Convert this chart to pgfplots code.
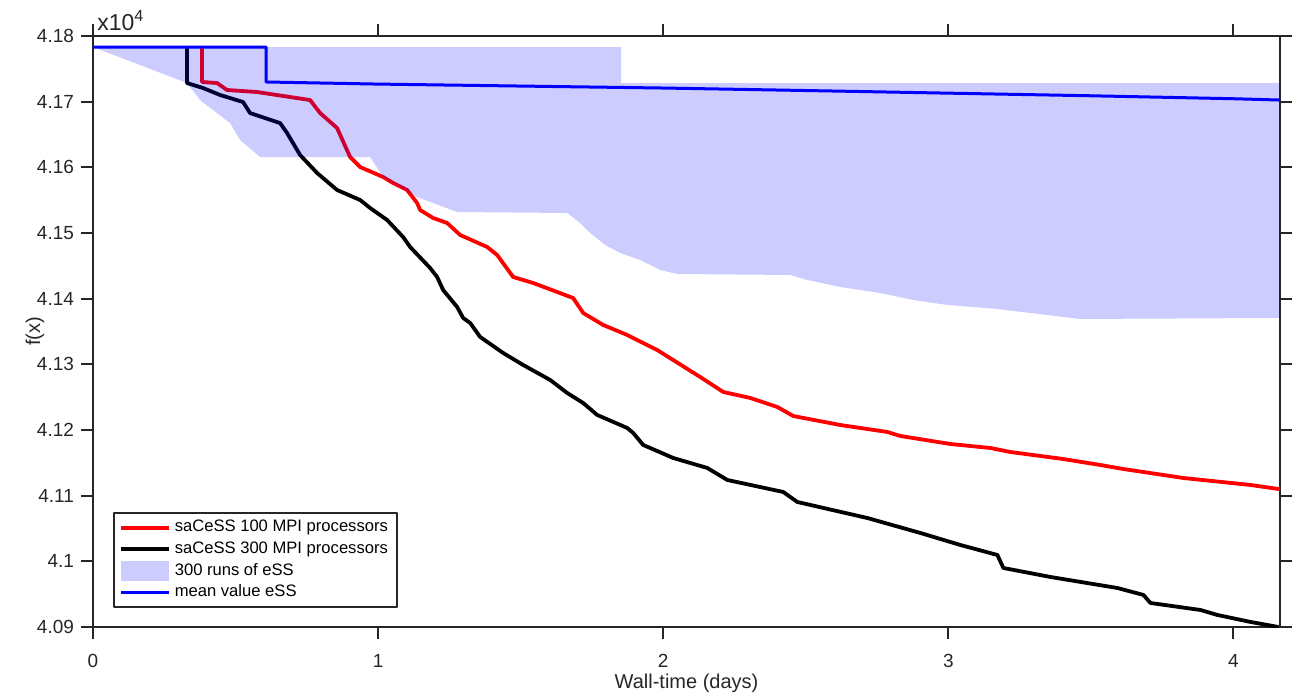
\documentclass[border=0pt]{standalone}
\usepackage{pgfplots}
\pgfplotsset{compat=1.18}
\usepackage{fontspec}
\setmainfont{Liberation Sans}
\definecolor{axgray}{RGB}{38,38,38}
\pgfplotsset{myarea/.style={legend image code/.code={\fill[##1] (0pt,-5pt) rectangle (24pt,5pt);}}}
\begin{document}
\begin{tikzpicture}
\path[use as bounding box] (-46.5pt,-34.5pt) rectangle (603.5pt,313.5pt);
\begin{axis}[
  scale only axis, width=593.5pt, height=295.5pt,
  clip mode=individual,
  xmin=0, xmax=4.1632, ymin=4.09, ymax=4.18,
  xtick={0,1,2,3,4}, xticklabels={0,1,2,3,4},
  ytick={4.09,4.10,4.11,4.12,4.13,4.14,4.15,4.16,4.17,4.18},
  yticklabels={4.09,4.1,4.11,4.12,4.13,4.14,4.15,4.16,4.17,4.18},
  tick align=outside, major tick length=6pt,
  axis line style={line width=1pt, axgray},
  every tick/.style={line width=1pt, axgray},
  tick label style={font=\fontsize{9.5}{11}\selectfont, text=axgray},
  xticklabel style={yshift=-4pt},
  /pgf/number format/assume math mode=true,
  xlabel={Wall-time (days)}, ylabel={f(x)},
  label style={font=\fontsize{10}{12}\selectfont, text=axgray},
  xlabel style={at={(axis description cs:0.5,-0.0948)}, anchor=center},
  ylabel style={at={(axis description cs:-0.0489,0.5)}, anchor=center, rotate=0},
  legend style={at={(axis description cs:0.01685,0.0322)}, anchor=south west,
    draw=axgray, line width=1pt, font=\fontsize{8.3}{10}\selectfont,
    inner xsep=2.5pt, inner ysep=1.5pt, row sep=-0.6pt},
  legend cell align=left,
  legend image code/.code={\draw[#1] (0pt,0pt) -- (24pt,0pt);},
  line join=round,
]
\addplot[red, line width=1.9pt] coordinates {
(0.3825,4.17832) (0.3825,4.17300) (0.4351,4.17284) (0.4702,4.17178) (0.5754,4.17147)
(0.7614,4.17025) (0.7965,4.16827) (0.8561,4.16599) (0.9018,4.16157) (0.9368,4.16005)
(1.0175,4.15853) (1.0526,4.15762) (1.1018,4.15655) (1.1368,4.15457) (1.1474,4.15350)
(1.1930,4.15229) (1.2421,4.15152) (1.2877,4.14970) (1.3825,4.14787) (1.4175,4.14665)
(1.4737,4.14330) (1.5439,4.14239) (1.6842,4.14010) (1.7193,4.13782) (1.7895,4.13599)
(1.8737,4.13447) (1.9789,4.13218) (2.1298,4.12807) (2.2105,4.12579) (2.3053,4.12488)
(2.4000,4.12351) (2.4561,4.12213) (2.6211,4.12076) (2.7860,4.11970) (2.8316,4.11909)
(3.0070,4.11787) (3.1474,4.11726) (3.2175,4.11665) (3.4000,4.11560) (3.5333,4.11467)
(3.6140,4.11406) (3.8246,4.11269) (4.0596,4.11163) (4.1579,4.11102) (4.1632,4.11100)
};
\addplot[black, line width=1.9pt] coordinates {
(0.3298,4.17832) (0.3298,4.17284) (0.3860,4.17208) (0.4456,4.17102) (0.5263,4.16995)
(0.5509,4.16827) (0.6561,4.16675) (0.6807,4.16523) (0.7263,4.16188) (0.7860,4.15914)
(0.8561,4.15655) (0.9368,4.15503) (0.9719,4.15381) (1.0316,4.15198) (1.0877,4.14939)
(1.1123,4.14787) (1.1825,4.14467) (1.2070,4.14330) (1.2281,4.14132) (1.2772,4.13873)
(1.2982,4.13706) (1.3228,4.13630) (1.3579,4.13417) (1.4386,4.13173) (1.5088,4.12990)
(1.6035,4.12762) (1.6632,4.12564) (1.7193,4.12411) (1.7684,4.12229) (1.8737,4.12031)
(1.8947,4.11955) (1.9298,4.11772) (2.0351,4.11574) (2.1544,4.11422) (2.2246,4.11239)
(2.4211,4.11056) (2.4702,4.10904) (2.7158,4.10660) (2.9018,4.10432) (3.0421,4.10249)
(3.1719,4.10097) (3.1930,4.09899) (3.3579,4.09762) (3.5930,4.09594) (3.6842,4.09488)
(3.7088,4.09366) (3.8842,4.09259) (3.9439,4.09183) (4.0596,4.09077) (4.1579,4.09000)
};
\addplot[fill=blue, fill opacity=0.2, draw=none, myarea] coordinates {
(0,4.17832) (1.8526,4.17832) (1.8526,4.17284) (4.1632,4.17284) (4.1632,4.13706)
(3.4632,4.13691) (3.4035,4.13721) (3.2877,4.13782) (3.1719,4.13843) (2.9965,4.13904)
(2.8772,4.13980) (2.7614,4.14086) (2.6211,4.14178) (2.5053,4.14284) (2.4456,4.14361)
(2.0491,4.14376) (1.9895,4.14437) (1.9193,4.14589) (1.8491,4.14696) (1.7965,4.14817)
(1.7439,4.15000) (1.7088,4.15152) (1.6632,4.15305) (1.2772,4.15320) (1.1368,4.15548)
(1.0175,4.15853) (0.9719,4.16157) (0.5860,4.16157) (0.5158,4.16416) (0.4807,4.16675)
(0.3754,4.17025) (0.3298,4.17284) (0,4.17832)
};
\addplot[blue, line width=1.5pt] coordinates {
(0,4.17832) (0.6070,4.17832) (0.6070,4.17300) (1.0,4.17268) (1.5,4.17238) (2.0,4.17208)
(2.5,4.17170) (3.0,4.17130) (3.5,4.17090) (4.0,4.17045) (4.1632,4.17025)
};
\legend{saCeSS 100 MPI processors, saCeSS 300 MPI processors, 300 runs of eSS, mean value eSS}
\node[anchor=base west, inner sep=0pt, text=axgray, font=\fontsize{11.5}{13}\selectfont]
  at ([xshift=2pt,yshift=3pt]axis description cs:0,1) {x10\textsuperscript{4}};
\end{axis}
\end{tikzpicture}
\end{document}
